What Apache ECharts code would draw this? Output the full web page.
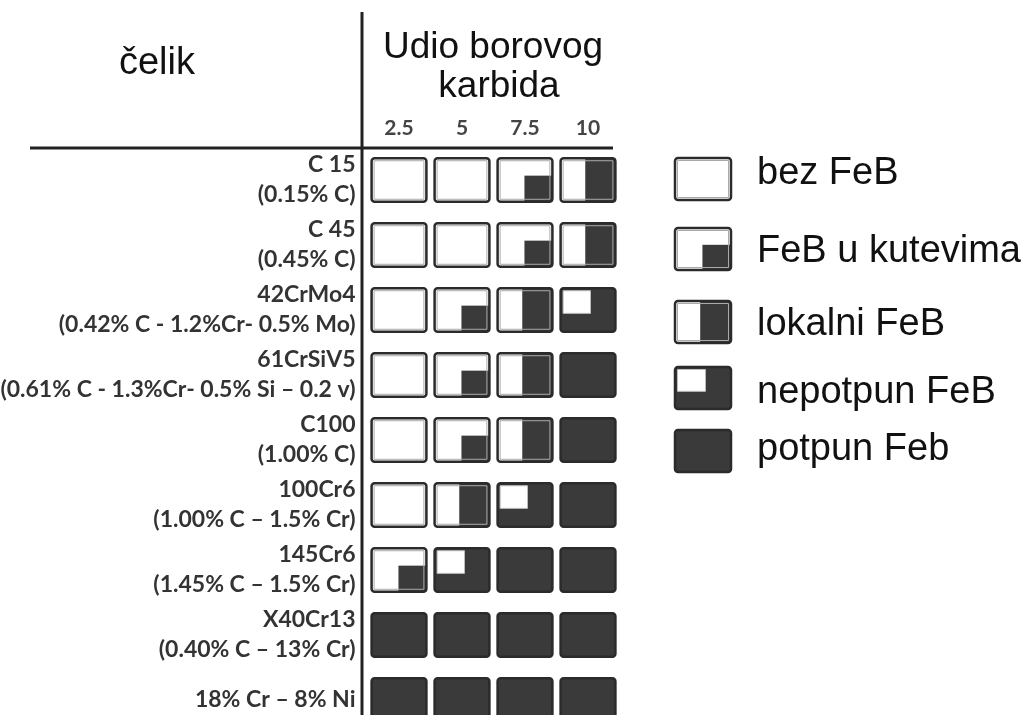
<!DOCTYPE html>
<html>
<head>
<meta charset="utf-8">
<script src="https://cdn.jsdelivr.net/npm/echarts@6/dist/echarts.min.js"></script>
<style>html,body{margin:0;padding:0;background:#fff}#c{width:1036px;height:715px}</style>
</head>
<body>
<div id="c"></div>
<script>
// ---- data ----
const columns = ['2.5', '5', '7.5', '10'];
const steels = ['C 15', 'C 45', '42CrMo4', '61CrSiV5', 'C100', '100Cr6', '145Cr6', 'X40Cr13', '18% Cr – 8% Ni'];
const compositions = ['(0.15% C)', '(0.45% C)', '(0.42% C - 1.2%Cr- 0.5% Mo)', '(0.61% C - 1.3%Cr- 0.5% Si – 0.2 v)', '(1.00% C)', '(1.00% C – 1.5% Cr)', '(1.45% C – 1.5% Cr)', '(0.40% C – 13% Cr)', ''];
const stateNames = ['bez FeB', 'FeB u kutevima', 'lokalni FeB', 'nepotpun FeB', 'potpun Feb'];
// 0 bez, 1 kutevi, 2 lokalni, 3 nepotpun, 4 potpun
const states = [
  [0, 0, 1, 2],
  [0, 0, 1, 2],
  [0, 1, 2, 3],
  [0, 1, 2, 4],
  [0, 1, 2, 4],
  [0, 2, 3, 4],
  [1, 3, 4, 4],
  [4, 4, 4, 4],
  [4, 4, 4, 4]
];
const headerLeft = 'čelik';
const headerRight = ['Udio borovog', 'karbida'];

// ---- drawing helpers ----
const DARK = '#3a3a3a', EDGE = '#2b2b2b';
function cellShapes(x, y, w, h, s) {
  const out = [];
  out.push({type: 'rect', shape: {x: x, y: y, width: w, height: h, r: 3}, style: {fill: s >= 3 ? DARK : '#fff'}});
  if (s === 1) out.push({type: 'rect', shape: {x: x + w * 0.49, y: y + h * 0.4, width: w * 0.51, height: h * 0.6}, style: {fill: DARK}});
  if (s === 2) out.push({type: 'rect', shape: {x: x + w * 0.45, y: y, width: w * 0.55, height: h}, style: {fill: DARK}});
  if (s === 3) out.push({type: 'rect', shape: {x: x + 2.5, y: y + 2.5, width: w * 0.5, height: h * 0.52}, style: {fill: '#fff', stroke: '#bbb', lineWidth: 1}});
  if (s < 3) out.push({type: 'rect', shape: {x: x + 2.5, y: y + 2.5, width: w - 5, height: h - 5}, style: {fill: 'none', stroke: '#aaa', lineWidth: 1}});
  out.push({type: 'rect', shape: {x: x, y: y, width: w, height: h, r: 3}, style: {fill: 'none', stroke: EDGE, lineWidth: 2.5}});
  return out;
}

const cellData = [];
states.forEach((row, r) => row.forEach((s, c) => cellData.push([c, r, s])));

const FONT_H = '"Liberation Sans", Arial, sans-serif';
const graphics = [
  {type: 'line', shape: {x1: 362, y1: 12, x2: 362, y2: 715}, style: {stroke: '#222', lineWidth: 3}, z: 10},
  {type: 'line', shape: {x1: 30, y1: 148, x2: 613, y2: 148}, style: {stroke: '#222', lineWidth: 3}, z: 10},
  {type: 'text', x: 157, y: 64, style: {text: headerLeft, font: '38px ' + FONT_H, fill: '#111', textAlign: 'center', textVerticalAlign: 'middle'}},
  {type: 'text', x: 493, y: 48, style: {text: headerRight[0], font: '37px ' + FONT_H, fill: '#111', textAlign: 'center', textVerticalAlign: 'middle'}},
  {type: 'text', x: 499, y: 87, style: {text: headerRight[1], font: '37px ' + FONT_H, fill: '#111', textAlign: 'center', textVerticalAlign: 'middle'}}
];
const legIconY = [179, 249, 322, 388, 451];
const legTextY = [174, 252, 325, 393, 450];
stateNames.forEach((name, i) => {
  graphics.push({type: 'group', children: cellShapes(675, legIconY[i] - 21, 56, 42, i)});
  graphics.push({type: 'text', x: 757, y: legTextY[i], style: {text: name, font: '38px ' + FONT_H, fill: '#111', textAlign: 'left', textVerticalAlign: 'middle'}});
});

const chart = echarts.init(document.getElementById('c'), null, {renderer: 'canvas'});
chart.setOption({
  animation: false,
  backgroundColor: '#fff',
  grid: {left: 367.5, top: 147.5, width: 252, height: 585, containLabel: false, outerBoundsMode: 'none'},
  xAxis: {
    type: 'category', position: 'top', data: columns,
    axisLine: {show: false}, axisTick: {show: false}, splitLine: {show: false},
    axisLabel: {margin: 9, fontSize: 21, fontWeight: 'bold', color: '#444', fontFamily: 'Lato, sans-serif'}
  },
  yAxis: {
    type: 'category', inverse: true, data: steels,
    axisLine: {show: false}, axisTick: {show: false}, splitLine: {show: false},
    axisLabel: {
      margin: 12, fontSize: 23, fontWeight: 'bold', color: '#333', lineHeight: 30, align: 'right',
      fontFamily: 'Lato, sans-serif',
      formatter: (v, i) => compositions[i] ? v + '\n' + compositions[i] : v
    }
  },
  series: [{
    type: 'custom',
    data: cellData,
    encode: {x: 0, y: 1},
    renderItem: function (params, api) {
      const p = api.coord([api.value(0), api.value(1)]);
      const sz = api.size([1, 1]);
      const w = sz[0] * 0.87, h = sz[1] * 0.67;
      return {type: 'group', children: cellShapes(p[0] - w / 2, p[1] - h / 2, w, h, api.value(2))};
    }
  }],
  graphic: graphics
});
</script>
</body>
</html>
